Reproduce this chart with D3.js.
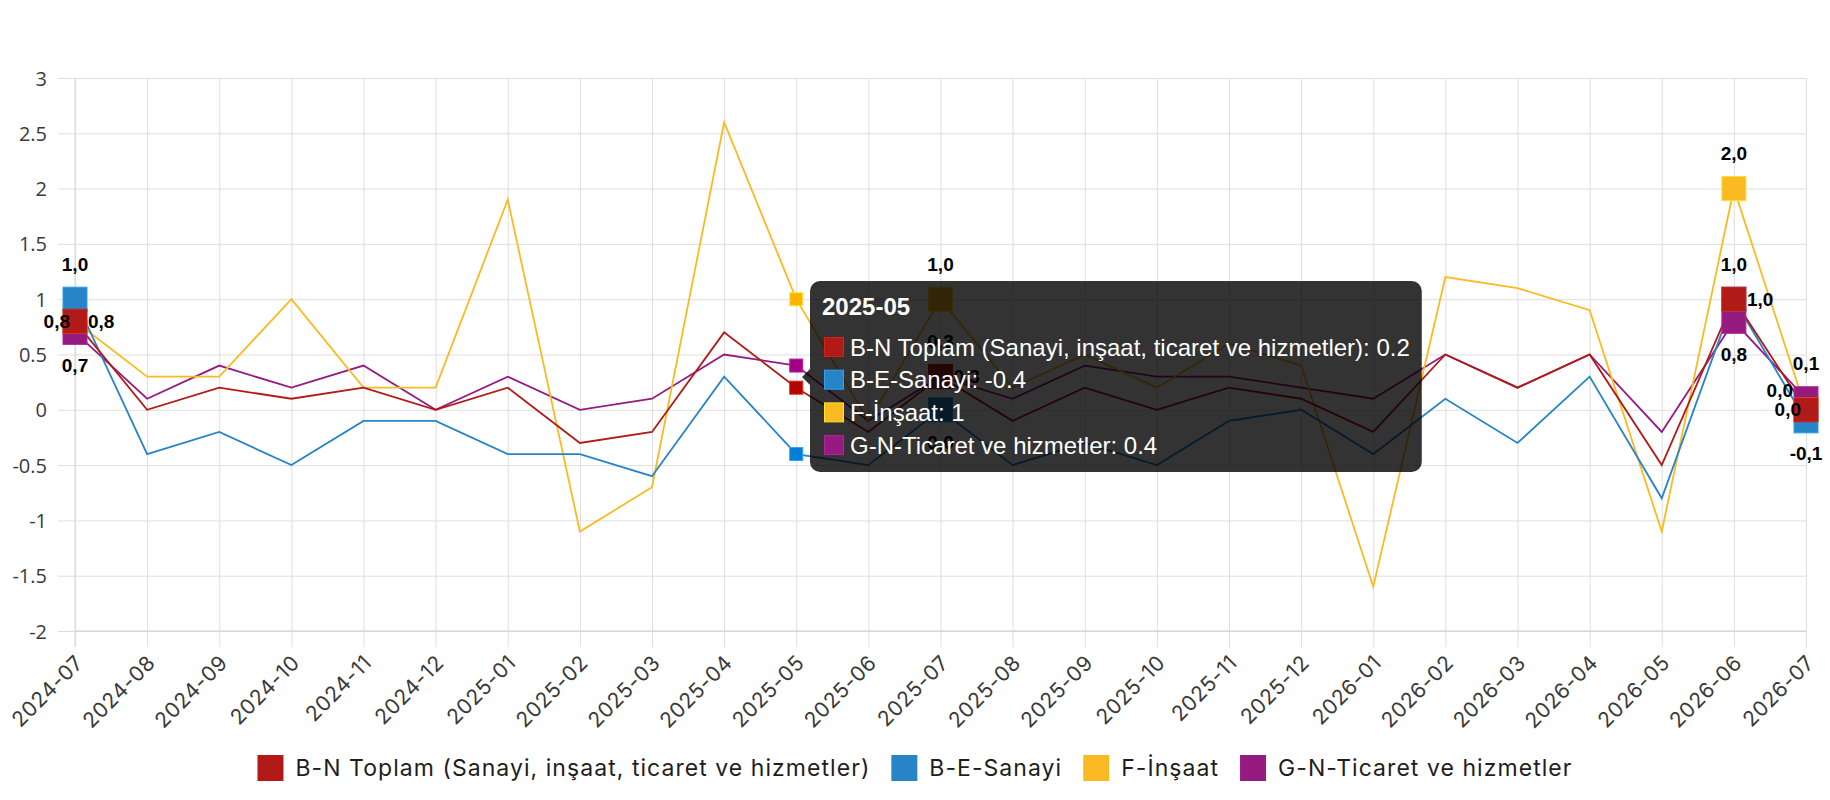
<!DOCTYPE html>
<html>
<head>
<meta charset="utf-8">
<script src="https://cdn.jsdelivr.net/npm/d3@7"></script>
<style>
  html, body { margin: 0; padding: 0; background: #fff; }
  svg { display: block; }
</style>
</head>
<body>
<script>
var months = ["2024-07", "2024-08", "2024-09", "2024-10", "2024-11", "2024-12",
  "2025-01", "2025-02", "2025-03", "2025-04", "2025-05", "2025-06", "2025-07",
  "2025-08", "2025-09", "2025-10", "2025-11", "2025-12", "2026-01", "2026-02",
  "2026-03", "2026-04", "2026-05", "2026-06", "2026-07"];

var seriesNames = ["B-N Toplam (Sanayi, inşaat, ticaret ve hizmetler)", "B-E-Sanayi",
  "F-İnşaat", "G-N-Ticaret ve hizmetler"];
var seriesColors = ["#B11A17", "#2684C7", "#FBBA22", "#961B81"];

var bnToplam = [0.8, 0.0, 0.2, 0.1, 0.2, 0.0, 0.2, -0.3, -0.2, 0.7, 0.2, -0.2, 0.3,
  -0.1, 0.2, 0.0, 0.2, 0.1, -0.2, 0.5, 0.2, 0.5, -0.5, 1.0, 0.0];
var beSanayi = [1.0, -0.4, -0.2, -0.5, -0.1, -0.1, -0.4, -0.4, -0.6, 0.3, -0.4, -0.5, 0.0,
  -0.5, -0.3, -0.5, -0.1, 0.0, -0.4, 0.1, -0.3, 0.3, -0.8, 1.0, -0.1];
var fInsaat = [0.8, 0.3, 0.3, 1.0, 0.2, 0.2, 1.9, -1.1, -0.7, 2.6, 1.0, -0.1, 1.0,
  0.2, 0.5, 0.2, 0.6, 0.4, -1.6, 1.2, 1.1, 0.9, -1.1, 2.0, 0.0];
var gnTicaret = [0.7, 0.1, 0.4, 0.2, 0.4, 0.0, 0.3, 0.0, 0.1, 0.5, 0.4, -0.1, 0.3,
  0.1, 0.4, 0.3, 0.3, 0.2, 0.1, 0.5, 0.2, 0.5, -0.2, 0.8, 0.1];

var yTicks = [-2, -1.5, -1, -0.5, 0, 0.5, 1, 1.5, 2, 2.5, 3];

// points that carry a big marker + value label, and the hovered one
var markedIndexes = [0, 12, 23, 24];
var hoverIndex = 10;

// label side per marked point, in series order (red, blue, yellow, purple)
var labelSides = {
  0:  ["left", "top", "right", "bottom"],
  12: ["top", "bottom", "top", "right"],
  23: ["top", "right", "top", "bottom"],
  24: ["left", "bottom", "leftUp", "top"]
};

var series = [bnToplam, beSanayi, fInsaat, gnTicaret];

var W = 1830, H = 800;
var plot = {left: 75, right: 1806, top: 78, bottom: 631};

var svg = d3.select("body").append("svg")
  .attr("width", W)
  .attr("height", H);

var x = d3.scalePoint().domain(months).range([plot.left, plot.right]);
var y = d3.scaleLinear().domain([-2, 3]).range([plot.bottom, plot.top]);

var GRID = "#dedede";

// y axis + horizontal grid
var yAxis = svg.append("g")
  .attr("transform", "translate(" + plot.left + ",0)")
  .call(d3.axisLeft(y).tickValues(yTicks).tickFormat(function(d) { return String(d); }).tickSizeOuter(0));
yAxis.select(".domain").remove();
yAxis.selectAll(".tick line")
  .attr("x1", -17)
  .attr("x2", plot.right - plot.left)
  .attr("stroke", GRID);
yAxis.selectAll(".tick text")
  .attr("x", -28)
  .attr("dy", "0.35em")
  .attr("font-family", "'Open Sans', sans-serif")
  .attr("font-size", 20)
  .attr("fill", "#3a3a3a");

// x axis + vertical grid
var xAxis = svg.append("g")
  .attr("transform", "translate(0," + plot.bottom + ")")
  .call(d3.axisBottom(x).tickSizeOuter(0));
xAxis.select(".domain").remove();
xAxis.selectAll(".tick line")
  .attr("y1", plot.top - plot.bottom)
  .attr("y2", 16)
  .attr("stroke", GRID);
xAxis.selectAll(".tick text")
  .attr("y", null)
  .attr("dy", null)
  .attr("text-anchor", "end")
  .attr("dominant-baseline", "middle")
  .attr("transform", "translate(5,29) rotate(-45)")
  .attr("font-family", "Inter, sans-serif")
  .attr("font-size", 21)
  .attr("letter-spacing", 0.6)
  .attr("fill", "#3a3a3a");

// axis borders
svg.append("line")
  .attr("x1", plot.left).attr("x2", plot.right)
  .attr("y1", y(-2)).attr("y2", y(-2))
  .attr("stroke", "#c9cdd2");
svg.append("line")
  .attr("x1", plot.left).attr("x2", plot.left)
  .attr("y1", plot.top).attr("y2", plot.bottom + 16)
  .attr("stroke", "#d6d7de");

// lines, first dataset drawn on top
var order = d3.range(series.length).reverse();
var line = d3.line()
  .x(function(d, i) { return x(months[i]); })
  .y(function(d) { return y(d); });

svg.append("g").selectAll("path")
  .data(order)
  .join("path")
  .attr("d", function(s) { return line(series[s]); })
  .attr("fill", "none")
  .attr("stroke", function(s) { return seriesColors[s]; })
  .attr("stroke-width", 1.8)
  .attr("stroke-linejoin", "miter");

// big markers
var BIG = 24;
var markers = svg.append("g");
order.forEach(function(s) {
  markedIndexes.forEach(function(i) {
    markers.append("rect")
      .attr("x", x(months[i]) - BIG / 2)
      .attr("y", y(series[s][i]) - BIG / 2)
      .attr("width", BIG)
      .attr("height", BIG)
      .attr("fill", seriesColors[s])
      .attr("stroke", d3.color(seriesColors[s]).brighter(0.5))
      .attr("stroke-width", 1);
  });
});

// value labels
function fmt(v) { return v.toFixed(1).replace(".", ","); }
var labels = svg.append("g")
  .attr("font-family", "'Liberation Sans', Arial, sans-serif")
  .attr("font-weight", "bold")
  .attr("font-size", 19)
  .attr("fill", "#000");
markedIndexes.forEach(function(i) {
  series.forEach(function(vals, s) {
    var side = labelSides[i][s];
    var px = x(months[i]), py = y(vals[i]);
    var dx = 0, dy = 0, anchor = "middle";
    if (side === "top") { dy = -35; }
    else if (side === "bottom") { dy = 33; }
    else if (side === "left") { dx = -5; anchor = "end"; }
    else if (side === "leftUp") { dx = -13; dy = -19; anchor = "end"; }
    else if (side === "right") { dx = 13; anchor = "start"; }
    labels.append("text")
      .attr("x", px + dx)
      .attr("y", py + dy)
      .attr("text-anchor", anchor)
      .attr("dominant-baseline", "central")
      .text(fmt(vals[i]));
  });
});

// hovered points
function hoverColor(c) {
  var h = d3.hsl(c);
  h.s = Math.min(1, h.s * 1.5);
  h.l = h.l * 0.9;
  return h + "";
}
var SMALL = 13;
var hover = svg.append("g");
order.forEach(function(s) {
  hover.append("rect")
    .attr("x", x(months[hoverIndex]) - SMALL / 2)
    .attr("y", y(series[s][hoverIndex]) - SMALL / 2)
    .attr("width", SMALL)
    .attr("height", SMALL)
    .attr("fill", hoverColor(seriesColors[s]))
    .attr("stroke", d3.color(seriesColors[s]).brighter(0.6))
    .attr("stroke-width", 1);
});

// tooltip
var tip = svg.append("g");
var tipX = 810, tipY = 281, tipH = 191;
var tipBg = tip.append("rect")
  .attr("x", tipX).attr("y", tipY)
  .attr("height", tipH)
  .attr("rx", 10).attr("ry", 10)
  .attr("fill", "rgba(0,0,0,0.8)");
var caretY = 377;
tip.append("path")
  .attr("d", "M" + tipX + "," + (caretY - 8) + "L" + (tipX - 8) + "," + caretY + "L" + tipX + "," + (caretY + 8) + "Z")
  .attr("fill", "rgba(0,0,0,0.8)");
tip.append("text")
  .attr("x", tipX + 12)
  .attr("y", 306)
  .attr("dominant-baseline", "central")
  .attr("font-family", "'Liberation Sans', Arial, sans-serif")
  .attr("font-weight", "bold")
  .attr("font-size", 24)
  .attr("fill", "#fff")
  .text(months[hoverIndex]);
var maxW = 0;
series.forEach(function(vals, s) {
  var ry = 347 + s * 32.7;
  tip.append("rect")
    .attr("x", 824.5).attr("y", ry - 9.5)
    .attr("width", 19).attr("height", 19)
    .attr("fill", seriesColors[s])
    .attr("stroke", d3.color(seriesColors[s]).brighter(0.6))
    .attr("stroke-width", 1);
  var t = tip.append("text")
    .attr("x", 850)
    .attr("y", ry)
    .attr("dominant-baseline", "central")
    .attr("font-family", "'Liberation Sans', Arial, sans-serif")
    .attr("font-size", 24)
    .attr("fill", "#fff")
    .text(seriesNames[s] + ": " + String(vals[hoverIndex]));
  maxW = Math.max(maxW, t.node().getComputedTextLength());
});
tipBg.attr("width", 850 - tipX + maxW + 12);

// legend
var legend = svg.append("g");
var items = legend.selectAll("g").data(seriesNames).join("g");
items.append("rect")
  .attr("y", 755)
  .attr("width", 26)
  .attr("height", 26)
  .attr("fill", function(d, i) { return seriesColors[i]; });
items.append("text")
  .attr("x", 38)
  .attr("y", 768)
  .attr("dominant-baseline", "central")
  .attr("font-family", "Inter, sans-serif")
  .attr("font-size", 23)
  .attr("letter-spacing", 1.05)
  .attr("fill", "#1e1e1e")
  .text(function(d) { return d; });
var widths = [];
items.select("text").each(function() { widths.push(this.getComputedTextLength()); });
var total = d3.sum(widths, function(w) { return 38 + w; }) + 21 * (widths.length - 1);
var cursor = W / 2 - total / 2;
items.attr("transform", function(d, i) {
  var tx = cursor;
  cursor += 38 + widths[i] + 21;
  return "translate(" + tx + ",0)";
});
</script>
</body>
</html>
